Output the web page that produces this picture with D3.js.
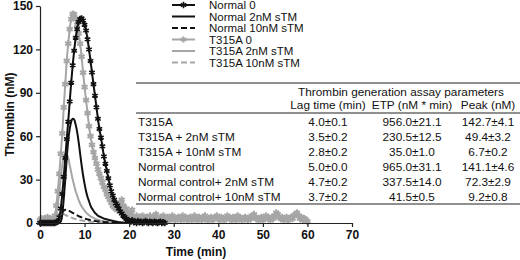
<!DOCTYPE html>
<html>
<head>
<meta charset="utf-8">
<script src="https://cdn.jsdelivr.net/npm/d3@7"></script>
<style>
  html, body { margin: 0; padding: 0; background: #fff; }
  svg { display: block; font-family: "Liberation Sans", Arial, sans-serif; }
</style>
</head>
<body>
<svg id="chart" width="520" height="260"></svg>
<script>
// sampling interval of the thrombogram (min)
const step = 1 / 3;

// Thrombin (nM), one value per 20 s
const normal0 = [
  0, 0, 0, 0, 0, 0, 0, 0, 0, 0, 0, 0.5,
  1, 4, 10, 20, 32, 45, 58, 70, 84, 97, 109, 119, 128, 134, 139, 141, 141.5, 140,
  137, 133, 127, 120, 112, 104, 96, 88, 80, 72, 65, 59, 53, 46, 41, 36, 31, 26, 22, 19,
  16, 13.5, 12, 10, 8, 6.5, 5, 4, 3, 2, 1.5,
  1, 2, 0.5, 1, 0, 1.5, 0.5, 1, 0, 0.5, 1.5, 0.5, 0, 1, 0.5, 0, 1, 0.5, 0, 0.5, 1, 0, 0.5, 0
];
const normal2 = [
  0, 0, 0, 0, 0, 0, 0, 0, 0, 0, 0, 0, 0, 0,
  1, 6, 17, 30, 45, 57, 65, 70, 72, 71.5, 68, 63, 56, 48, 40, 33,
  27, 22, 18, 15, 12, 10, 8.5, 7, 6, 5,
  4.5, 4, 3.5, 3, 2.8, 2.5, 2.2, 2, 1.8, 1.5, 1.2, 1, 0.8, 0.6, 0.5, 0.4, 0.3, 0.2, 0.2, 0.1, 0
];
const normal10 = [
  0, 0, 0, 0, 0, 0, 0, 0, 0, 0, 0,
  0.5, 2, 4, 6, 7.5, 8.5, 9.2, 9.2, 8.8, 8.2, 7.6,
  7, 6.4, 5.8, 5.3, 4.8, 4.3, 3.9, 3.5, 3.1, 2.8, 2.5, 2.2, 2, 1.8, 1.6, 1.4, 1.2, 1.1, 1,
  0.9, 0.8, 0.7, 0.6, 0.5, 0.4, 0.3, 0.3, 0.2, 0.2, 0.1, 0.1, 0, 0, 0, 0, 0, 0, 0, 0
];
const t315a0 = [
  2, 3, 1, 3, 2, 4, 2, 3, 2, 3, 5,
  12, 22, 34, 48, 62, 80, 96, 112, 124, 134, 141, 144.5, 144, 141, 137, 131, 124, 115, 104,
  94, 85, 76, 67, 60, 54, 49, 45, 41, 37, 34, 31, 28, 25, 23, 20, 18, 16, 14, 12,
  11, 10, 9, 11, 14, 16, 12, 8, 10, 6, 5,
  7, 9, 4, 3, 5, 2, 4, 3, 5, 2, 3, 4, 2, 5, 3, 2, 4, 6, 3, 2,
  4, 3, 5, 2, 3, 4, 2, 3, 5, 4, 2, 3, 4, 3, 2, 5, 3, 4, 2, 3,
  4, 2, 3, 5, 3, 2, 4, 3, 2, 4, 5, 3, 2, 3, 4, 2, 3, 4, 5, 3,
  2, 4, 3, 2, 3, 5, 4, 3, 2, 4, 3, 2, 5, 4, 3, 2, 3, 4, 3, 2,
  4, 3, 5, 6, 4, 3, 2, 3, 4, 2, 3, 5, 4, 3, 2, 4, 3, 5, 7, 6,
  4, 3, 4, 2, 3, 4, 2, 3, 4, 3, 5, 6, 7, 5, 3, 4, 2, 3, 2, 1
];
const t315a2 = [
  0, 0, 0, 0, 0, 0, 0, 0, 0, 0,
  1, 5, 13, 22, 32, 40, 45.5, 48, 47.5, 45, 40, 35, 30, 26, 22, 19, 16, 13.5, 11.5, 10,
  8.5, 7.2, 6.2, 5.3, 4.6, 4, 3.5, 3, 2.6, 2.2, 1.9, 1.6, 1.4, 1.2, 1, 0.8, 0.7, 0.6, 0.5, 0.4,
  0.3, 0.2, 0.1, 0, 0, 0, 0, 0, 0, 0, 0
];
const t315a10 = [
  0, 0, 0, 0, 0, 0, 0, 0,
  0.5, 1.5, 3, 4.5, 5.8, 6.5, 6.7, 6.5, 6.1,
  5.6, 5.1, 4.6, 4.2, 3.8, 3.4, 3, 2.7, 2.4, 2.1, 1.9, 1.7, 1.5, 1.3, 1.1, 1, 0.9, 0.8, 0.7,
  0.6, 0.5, 0.4, 0.3, 0.2, 0.1, 0, 0, 0, 0, 0, 0, 0, 0
];

const seriesNames = ['Normal 0', 'Normal 2nM sTM', 'Normal 10nM sTM', 'T315A 0', 'T315A 2nM sTM', 'T315A 10nM sTM'];
const seriesValues = [normal0, normal2, normal10, t315a0, t315a2, t315a10];

const xTicks = [0, 10, 20, 30, 40, 50, 60, 70];
const yTicks = [0, 30, 60, 90, 120, 150];

// table
const tableTitle = 'Thrombin generation assay parameters';
const tableColumns = ['Lag time (min)', 'ETP (nM * min)', 'Peak (nM)'];
const tableRows = ['T315A', 'T315A + 2nM sTM', 'T315A + 10nM sTM', 'Normal control', 'Normal control+ 2nM sTM', 'Normal control+ 10nM sTM'];
const lagTime = ['4.0±0.1', '3.5±0.2', '2.8±0.2', '5.0±0.0', '4.7±0.2', '3.7±0.2'];
const etp = ['956.0±21.1', '230.5±12.5', '35.0±1.0', '965.0±31.1', '337.5±14.0', '41.5±0.5'];
const peak = ['142.7±4.1', '49.4±3.2', '6.7±0.2', '141.1±4.6', '72.3±2.9', '9.2±0.8'];

const BLACK = '#111';
const GRAY = '#a6a6a6';
const styles = [
  { color: BLACK, dash: null, marker: true },
  { color: BLACK, dash: null, marker: false },
  { color: BLACK, dash: '6,3', marker: false },
  { color: GRAY, dash: null, marker: true },
  { color: GRAY, dash: null, marker: false },
  { color: GRAY, dash: '6,3', marker: false }
];

const svg = d3.select('#chart');

const x = d3.scaleLinear().domain([0, 70]).range([40, 352]);
const y = d3.scaleLinear().domain([0, 150]).range([223, 6]);

// six-armed star used as the data marker
const starSymbol = {
  draw(ctx, size) {
    const r = Math.sqrt(size) / 2;
    for (let k = 0; k < 3; k++) {
      const a = Math.PI / 2 + k * Math.PI / 3;
      ctx.moveTo(r * Math.cos(a), r * Math.sin(a));
      ctx.lineTo(-r * Math.cos(a), -r * Math.sin(a));
    }
  }
};

const line = d3.line()
  .x((d, i) => x(i * step))
  .y(d => y(d))
  .curve(d3.curveMonotoneX);

// gray curves go underneath the black ones
const drawOrder = [4, 5, 3, 1, 2, 0];
const plot = svg.append('g');
drawOrder.forEach(si => {
  const st = styles[si];
  const vals = seriesValues[si];
  plot.append('path')
    .datum(vals)
    .attr('fill', 'none')
    .attr('stroke', st.color)
    .attr('stroke-width', 2)
    .attr('stroke-dasharray', st.dash)
    .attr('d', line);
  if (st.marker) {
    plot.append('g')
      .selectAll('path')
      .data(vals)
      .join('path')
      .attr('transform', (d, i) => `translate(${x(i * step)},${y(d)})`)
      .attr('d', d3.symbol().type(starSymbol).size(si === 0 ? 40 : 50))
      .attr('fill', 'none')
      .attr('stroke', st.color)
      .attr('stroke-width', si === 0 ? 1.6 : 2);
  }
});

// axes
const yAxis = svg.append('g')
  .attr('transform', `translate(${x(0)},0)`)
  .call(d3.axisLeft(y).tickValues(yTicks).tickSize(4).tickSizeOuter(0).tickPadding(3));
const xAxis = svg.append('g')
  .attr('transform', `translate(0,${y(0)})`)
  .call(d3.axisBottom(x).tickValues(xTicks).tickSize(4).tickSizeOuter(0).tickPadding(3));

[xAxis, yAxis].forEach(ax => {
  ax.selectAll('path, line').attr('stroke', '#222').attr('stroke-width', 1.2);
  ax.selectAll('text')
    .attr('fill', '#111')
    .style('font-family', '"Liberation Sans", Arial, sans-serif')
    .style('font-size', '12px')
    .style('font-weight', 'bold');
});

svg.append('text')
  .attr('x', (x(0) + x(70)) / 2)
  .attr('y', 256)
  .attr('text-anchor', 'middle')
  .style('font-size', '12px')
  .style('font-weight', 'bold')
  .attr('fill', '#111')
  .text('Time (min)');

svg.append('text')
  .attr('transform', `translate(14,${(y(0) + y(150)) / 2}) rotate(-90)`)
  .attr('text-anchor', 'middle')
  .style('font-size', '12px')
  .style('font-weight', 'bold')
  .attr('fill', '#111')
  .text('Thrombin (nM)');

// legend
const legend = svg.append('g');
seriesNames.forEach((name, i) => {
  const st = styles[i];
  const ly = 5 + i * 11.5;
  legend.append('line')
    .attr('x1', 172).attr('x2', 195)
    .attr('y1', ly).attr('y2', ly)
    .attr('stroke', st.color)
    .attr('stroke-width', 2)
    .attr('stroke-dasharray', st.dash);
  if (st.marker) {
    legend.append('path')
      .attr('transform', `translate(183.5,${ly})`)
      .attr('d', d3.symbol().type(starSymbol).size(40))
      .attr('fill', 'none')
      .attr('stroke', st.color)
      .attr('stroke-width', 1.6);
  }
  legend.append('text')
    .attr('x', 209)
    .attr('y', ly)
    .attr('dy', '0.36em')
    .style('font-size', '11.5px')
    .attr('fill', '#111')
    .text(name);
});

// table
const table = svg.append('g').style('font-size', '11.8px').attr('fill', '#111');
const colX = [328, 412, 488];
const rowY = d3.range(tableRows.length).map(i => 122 + i * 15);
const rule = yy => table.append('line')
  .attr('x1', 136).attr('x2', 520)
  .attr('y1', yy).attr('y2', yy)
  .attr('stroke', '#222').attr('stroke-width', 1.2);
rule(83);
rule(113);
rule(204);

table.append('text')
  .attr('x', 401).attr('y', 92).attr('dy', '0.36em')
  .attr('text-anchor', 'middle')
  .text(tableTitle);
tableColumns.forEach((c, j) => {
  table.append('text')
    .attr('x', colX[j]).attr('y', 105).attr('dy', '0.36em')
    .attr('text-anchor', 'middle')
    .text(c);
});
tableRows.forEach((r, i) => {
  table.append('text')
    .attr('x', 138).attr('y', rowY[i]).attr('dy', '0.36em')
    .text(r);
  [lagTime, etp, peak].forEach((col, j) => {
    table.append('text')
      .attr('x', colX[j]).attr('y', rowY[i]).attr('dy', '0.36em')
      .attr('text-anchor', 'middle')
      .text(col[i]);
  });
});
</script>
</body>
</html>
